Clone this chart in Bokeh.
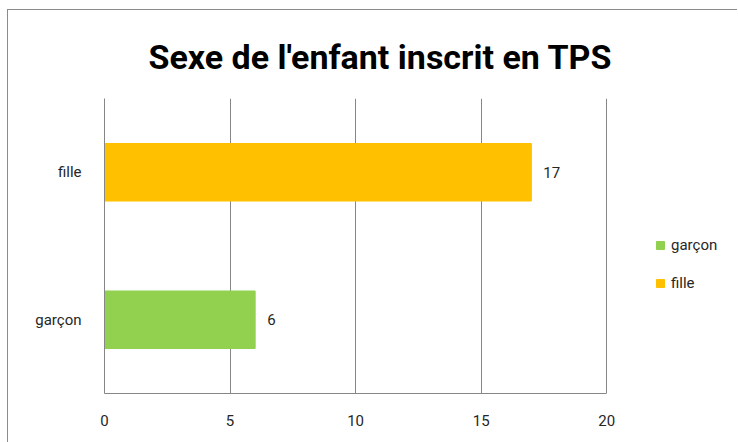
from bokeh.plotting import figure
from bokeh.models import ColumnDataSource, Legend, LegendItem, LabelSet, FactorRange, Range1d
from bokeh.core.properties import value
from bokeh.embed import file_html
from bokeh.resources import INLINE

categories = ["garçon", "fille"]
values = [6, 17]
colors = ["#92D050", "#FFC000"]
x_ticks = [0, 5, 10, 15, 20]
x_axis_end = 20
title_text = "Sexe de l'enfant inscrit en TPS"

FONT = "Roboto"

src = ColumnDataSource(dict(cat=categories, val=values, color=colors,
                            txt=[str(v) for v in values]))

# frame extends to the right edge so the legend fits inside; axis/grid bounded at 20
p = figure(width=730, height=433, y_range=FactorRange(*categories),
           x_range=Range1d(0, 25.25),
           output_backend="svg", toolbar_location=None,
           min_border_left=96, min_border_right=0, min_border_top=88, min_border_bottom=50)
p.styles = {"border-top": "1px solid #8c8c8c", "border-left": "1px solid #8c8c8c",
            "margin-left": "7px", "margin-top": "9px"}
p.outline_line_color = None
p.background_fill_color = "white"
p.border_fill_color = "white"

p.title.text = title_text
p.title.align = "left"
p.title.vertical_align = "top"
p.title.text_font = FONT
p.title.text_font_style = "bold"
p.title.text_font_size = "34px"
p.title.text_color = "black"
p.title.standoff = 40
p.title.offset = 44

r = p.hbar(y="cat", right="val", left=0, height=0.39, color="color", source=src)

labels = LabelSet(x="val", y="cat", text="txt", source=src, x_offset=12,
                  text_baseline="middle", text_font_size="15px", text_font=value(FONT),
                  text_color="#262626")
p.add_layout(labels)

p.xaxis.ticker = x_ticks
p.xaxis.bounds = (0, x_axis_end)
p.xaxis.major_tick_line_color = None
p.xaxis.minor_tick_line_color = None
p.xaxis.axis_line_color = "#868686"
p.xaxis.major_label_standoff = 15
p.xaxis.major_label_text_font = FONT
p.xaxis.major_label_text_font_size = "15px"
p.xaxis.major_label_text_color = "#262626"

p.yaxis.major_tick_line_color = None
p.yaxis.minor_tick_line_color = None
p.yaxis.axis_line_color = "#868686"
p.yaxis.major_label_standoff = 17
p.yaxis.major_label_text_font = FONT
p.yaxis.major_label_text_font_size = "15px"
p.yaxis.major_label_text_color = "#262626"

p.xgrid.grid_line_color = "#868686"
p.xgrid.bounds = (0, x_axis_end)
p.ygrid.grid_line_color = None

legend = Legend(items=[LegendItem(label="garçon", renderers=[r], index=0),
                       LegendItem(label="fille", renderers=[r], index=1)],
                location=(551, 101), padding=0, margin=0, border_line_alpha=0,
                background_fill_alpha=0, glyph_width=10, glyph_height=10,
                label_standoff=6, spacing=20, label_text_font=FONT,
                label_text_font_size="15px", label_text_color="#262626")
p.add_layout(legend, "center")

open("out.html", "w").write(file_html(p, INLINE))
